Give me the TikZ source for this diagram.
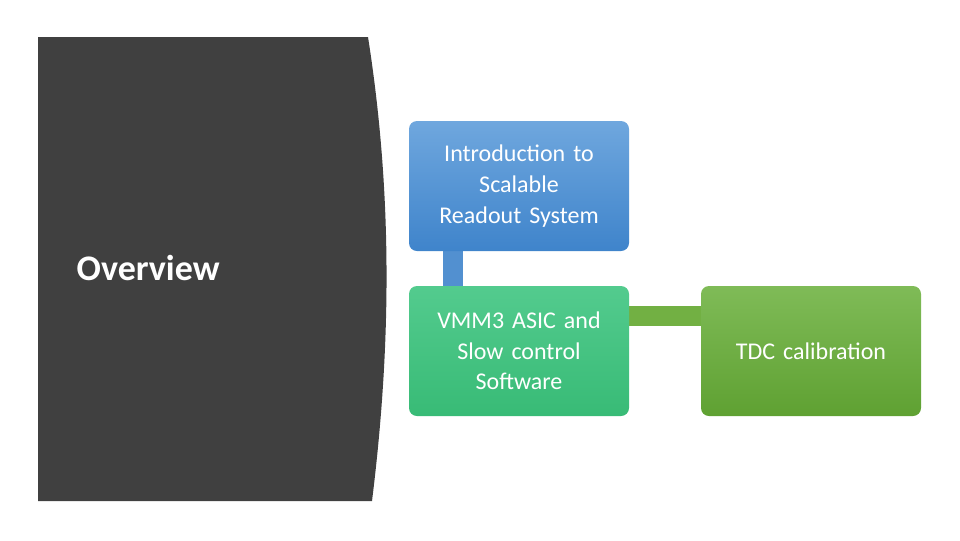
\documentclass[tikz,border=0pt]{standalone}
\usepackage{fontspec}
\setmainfont{Carlito}
\usetikzlibrary{positioning}
\definecolor{panel}{HTML}{404040}
\definecolor{bluetop}{HTML}{6FA7DE}
\definecolor{bluebot}{HTML}{3F84CB}
\definecolor{greentop}{HTML}{53CB8E}
\definecolor{greenbot}{HTML}{38BB76}
\definecolor{limetop}{HTML}{7FBB57}
\definecolor{limebot}{HTML}{5FA132}
\definecolor{limebar}{HTML}{72B043}
\begin{document}
\begin{tikzpicture}
  [x=0.75pt,y=-0.75pt,
  topic/.style={minimum width=165pt, minimum height=97.5pt, rounded corners=6pt,
    text width=160pt, align=center, font=\fontsize{18}{23}\selectfont, text=white,
    inner sep=0pt},
  bluebox/.style={topic, top color=bluetop, bottom color=bluebot},
  greenbox/.style={topic, top color=greentop, bottom color=greenbot},
  limebox/.style={topic, top color=limetop, bottom color=limebot}]
  \useasboundingbox (0,0) rectangle (960,540);
  \fill[panel] (38,37) -- (368,37) .. controls (392,190) and (392,340) .. (372,501) -- (38,501) -- cycle;
  \node (over) [anchor=west, font=\fontsize{27}{30}\selectfont\bfseries, text=white] at (72,268) {Overview};
  % connecting bars
  \coordinate (vtop) at (453,251);
  \coordinate (vbot) at (453,287);
  \draw[line width=15pt, bluebot!90!white] (vtop) -- (vbot);
  \coordinate (hleft) at (628,316);
  \coordinate (hright) at (702,316);
  \draw[line width=15pt, limebar] (hleft) -- (hright);
  \node (srs)  [bluebox]  at (519,186) {Introduction to\\Scalable\\Readout System};
  \node (vmm)  [greenbox] at (519,351) {VMM3 ASIC and\\Slow control\\Software};
  \node (tdc)  [limebox]  at (811,351) {TDC calibration};
\end{tikzpicture}
\end{document}
